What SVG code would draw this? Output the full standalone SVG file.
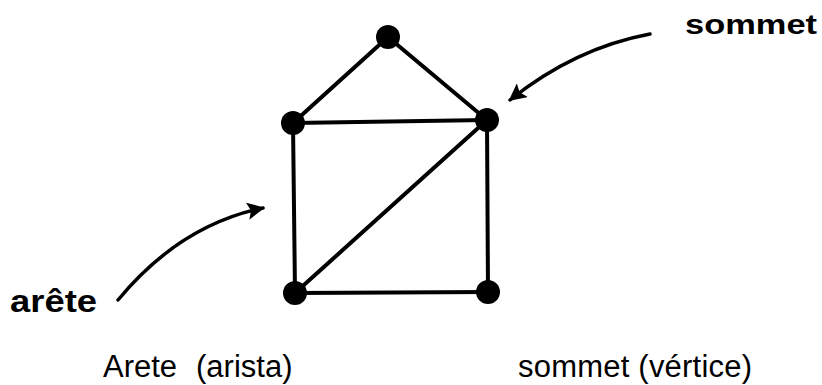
<svg xmlns="http://www.w3.org/2000/svg" width="822" height="385" viewBox="0 0 822 385">
<defs>
<style>
.edge{stroke:#000;stroke-width:4;stroke-linecap:round;fill:none}
.pt{fill:#000}
.ptr{stroke:#000;stroke-width:3.5;fill:none;stroke-linecap:round}
.lbl{font-family:"Liberation Sans",Arial,sans-serif;font-weight:bold;fill:#000}
.cap{font-family:"Liberation Sans",Arial,sans-serif;font-size:31px;fill:#000}
</style>
<marker id="ah" viewBox="0 0 10 10" refX="9" refY="5" markerWidth="5" markerHeight="5" markerUnits="strokeWidth" orient="auto">
<path d="M0,0 L10,5 L0,10 L2,5 Z" fill="#000"/>
</marker>
</defs>
<rect width="822" height="385" fill="#fff"/>
<g id="connectors">
<line class="edge" x1="388" y1="37" x2="293" y2="123"/>
<line class="edge" x1="388" y1="37" x2="487" y2="120"/>
<line class="edge" x1="293" y1="123" x2="487" y2="120"/>
<line class="edge" x1="293" y1="123" x2="295" y2="293"/>
<line class="edge" x1="487" y1="120" x2="488" y2="292"/>
<line class="edge" x1="487" y1="120" x2="295" y2="293"/>
<line class="edge" x1="295" y1="293" x2="488" y2="292"/>
<path class="ptr" d="M650,34 Q575,48 510,100" marker-end="url(#ah)"/>
<path class="ptr" d="M118,300 Q180,225 263,208" marker-end="url(#ah)"/>
</g>
<g id="n-top"><circle class="pt" cx="388" cy="37" r="12"/></g>
<g id="n-ul"><circle class="pt" cx="293" cy="123" r="12"/></g>
<g id="n-ur"><circle class="pt" cx="487" cy="120" r="12"/></g>
<g id="n-bl"><circle class="pt" cx="295" cy="293" r="12"/></g>
<g id="n-br"><circle class="pt" cx="488" cy="292" r="12"/></g>
<g id="labels">
<text class="lbl" x="685" y="34" font-size="28" textLength="132" lengthAdjust="spacingAndGlyphs">sommet</text>
<text class="lbl" x="10" y="312" font-size="32" textLength="87" lengthAdjust="spacingAndGlyphs">arête</text>
<text class="cap" x="103" y="377">Arete</text>
<text class="cap" x="196" y="377">(arista)</text>
<text class="cap" x="518" y="377" textLength="234">sommet (vértice)</text>
</g>
</svg>
